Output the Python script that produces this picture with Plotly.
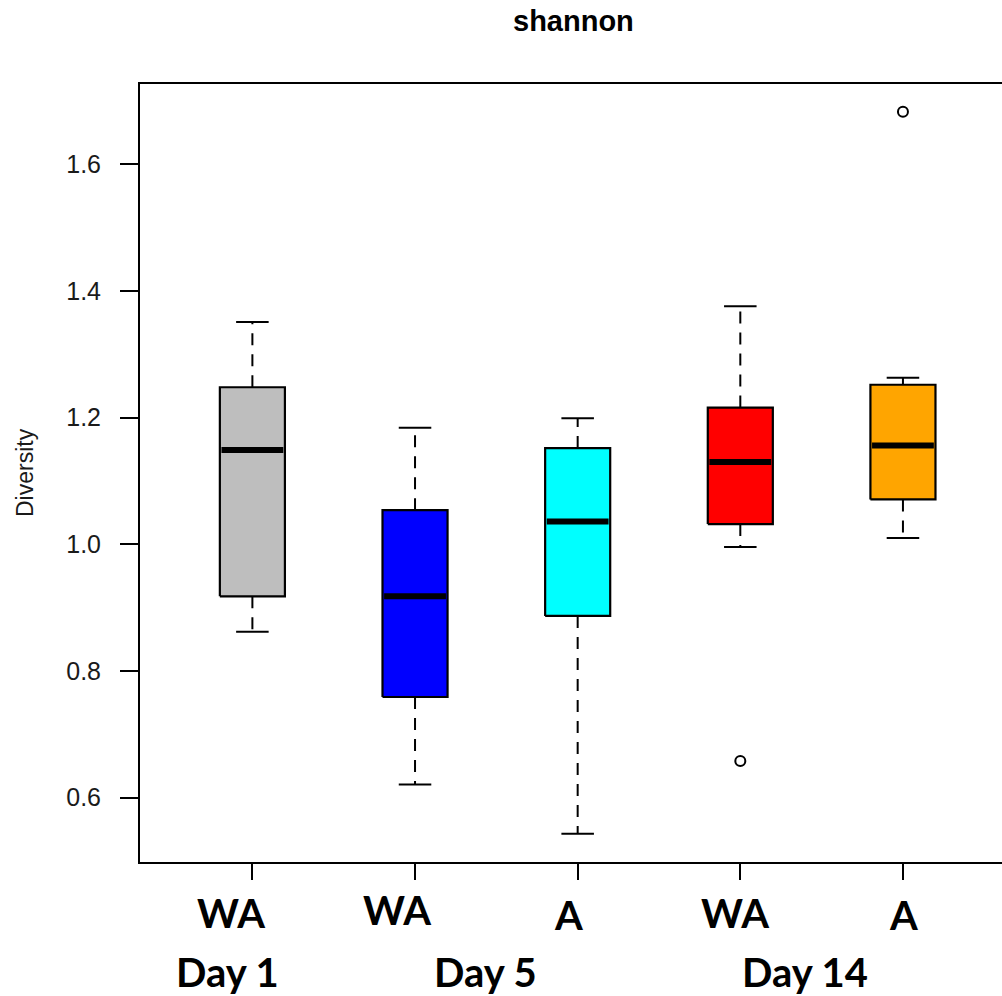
import plotly.graph_objects as go

# ---- data ----
groups = ["Day 1 WA", "Day 5 WA", "Day 5 A", "Day 14 WA", "Day 14 A"]
lower_whisker = [0.862, 0.621, 0.543, 0.996, 1.010]
q1 = [0.918, 0.759, 0.887, 1.032, 1.071]
median = [1.149, 0.918, 1.036, 1.130, 1.156]
q3 = [1.248, 1.054, 1.152, 1.216, 1.252]
upper_whisker = [1.351, 1.184, 1.199, 1.376, 1.263]
outliers = [[], [], [], [0.658], [1.683]]
box_colors = ["#BEBEBE", "#0000FF", "#00FFFF", "#FF0000", "#FFA500"]

treatment_labels = ["WA", "WA", "A", "WA", "A"]
day_labels = ["Day 1", "Day 5", "Day 14"]
y_ticks = [0.6, 0.8, 1.0, 1.2, 1.4, 1.6]

# ---- style / layout constants ----
HALF_BOX = 0.2
HALF_CAP = 0.1
treat_x = [0.871, 1.892, 2.943, 3.967, 5.003]
treat_y = [-0.065, -0.062, -0.068, -0.065, -0.068]
day_x = [0.850, 2.433, 4.397]
day_y = -0.142

fig = go.Figure()
for i, g in enumerate(groups):
    x = i + 1
    # dashed whiskers
    fig.add_trace(go.Scatter(
        x=[x, x, None, x, x],
        y=[q3[i], upper_whisker[i], None, q1[i], lower_whisker[i]],
        mode="lines", line=dict(color="black", width=2, dash="12px,9px"),
        hoverinfo="skip", showlegend=False))
    # staples
    fig.add_trace(go.Scatter(
        x=[x - HALF_CAP, x + HALF_CAP, None, x - HALF_CAP, x + HALF_CAP],
        y=[upper_whisker[i], upper_whisker[i], None, lower_whisker[i], lower_whisker[i]],
        mode="lines", line=dict(color="black", width=2),
        hoverinfo="skip", showlegend=False))
    # box
    fig.add_trace(go.Scatter(
        x=[x - HALF_BOX, x + HALF_BOX, x + HALF_BOX, x - HALF_BOX, x - HALF_BOX],
        y=[q1[i], q1[i], q3[i], q3[i], q1[i]],
        mode="lines", fill="toself", fillcolor=box_colors[i],
        line=dict(color="black", width=2.2), name=g, showlegend=False))
    # median
    fig.add_trace(go.Scatter(
        x=[x - HALF_BOX + 0.01, x + HALF_BOX - 0.01], y=[median[i], median[i]],
        mode="lines", line=dict(color="black", width=6),
        hoverinfo="skip", showlegend=False))
    # outliers
    if outliers[i]:
        fig.add_trace(go.Scatter(
            x=[x] * len(outliers[i]), y=outliers[i], mode="markers",
            marker=dict(symbol="circle-open", size=10, color="black",
                        line=dict(width=2, color="black")),
            showlegend=False))

annotations = []
for lab, xx, yy in zip(treatment_labels, treat_x, treat_y):
    annotations.append(dict(text=lab, x=xx, y=yy, xref="x", yref="paper",
                            showarrow=False, xanchor="center", yanchor="middle",
                            font=dict(family="Lato", size=40, color="black", weight="bold")))
for lab, xx in zip(day_labels, day_x):
    annotations.append(dict(text=lab, x=xx, y=day_y, xref="x", yref="paper",
                            showarrow=False, xanchor="center", yanchor="middle",
                            font=dict(family="Lato", size=40, color="black", weight="bold")))
annotations.append(dict(text="<b>shannon</b>", x=0.503, y=1.0 + (84 - 21) / 778,
                        xref="paper", yref="paper", showarrow=False,
                        xanchor="center", yanchor="middle",
                        font=dict(family="Liberation Sans", size=29, color="black")))
annotations.append(dict(text="Diversity", x=(25 - 140) / 862, y=0.5,
                        xref="paper", yref="paper", showarrow=False, textangle=-90,
                        xanchor="center", yanchor="middle",
                        font=dict(family="Liberation Sans", size=23, color="#1a1a1a")))

fig.update_layout(
    width=1002, height=996,
    margin=dict(l=140, r=0, t=84, b=134),
    plot_bgcolor="white", paper_bgcolor="white",
    annotations=annotations,
    xaxis=dict(range=[0.309, 5.609], showgrid=False, zeroline=False,
               showline=True, linecolor="black", linewidth=2, mirror=True,
               ticks="outside", tickvals=[1, 2, 3, 4, 5], ticklen=16, tickwidth=2,
               tickcolor="black", showticklabels=False),
    yaxis=dict(range=[0.4985, 1.7268], showgrid=False, zeroline=False,
               showline=True, linecolor="black", linewidth=2,
               ticks="outside", tickvals=y_ticks,
               ticktext=[f"{v:.1f}" for v in y_ticks],
               ticklen=18, tickwidth=2, tickcolor="black",
               tickfont=dict(family="Liberation Sans", size=25, color="#1a1a1a"),
               ticklabelstandoff=14),
)

fig.write_html("out.html")
